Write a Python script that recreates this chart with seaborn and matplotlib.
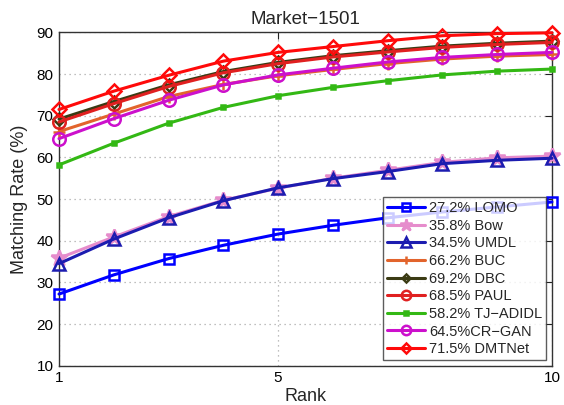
import numpy as np
import pandas as pd
import matplotlib
matplotlib.use("Agg")
import matplotlib.pyplot as plt
import seaborn as sns

ranks = [1, 2, 3, 4, 5, 6, 7, 8, 9, 10]

lomo = [27.2, 31.8, 35.7, 38.9, 41.6, 43.7, 45.5, 46.9, 48.1, 49.3]
bow = [35.8, 40.9, 45.8, 49.7, 52.6, 55.0, 56.9, 58.8, 59.9, 60.3]
umdl = [34.5, 40.4, 45.5, 49.6, 52.7, 54.9, 56.6, 58.5, 59.3, 59.8]
buc = [66.2, 70.4, 74.6, 77.5, 79.6, 81.1, 82.5, 83.6, 84.3, 84.7]
dbc = [69.2, 73.4, 77.4, 80.6, 82.8, 84.4, 85.6, 86.7, 87.4, 87.9]
paul = [68.5, 72.9, 77.0, 80.3, 82.5, 84.1, 85.3, 86.4, 87.1, 87.6]
tj_adidl = [58.2, 63.4, 68.2, 72.0, 74.8, 76.8, 78.4, 79.8, 80.7, 81.2]
cr_gan = [64.5, 69.3, 73.7, 77.4, 79.8, 81.4, 82.9, 84.0, 84.7, 85.2]
dmtnet = [71.5, 75.9, 79.7, 83.1, 85.2, 86.6, 88.0, 89.2, 89.7, 89.9]

labels = ["27.2% LOMO", "35.8% Bow", "34.5% UMDL", "66.2% BUC", "69.2% DBC",
          "68.5% PAUL", "58.2% TJ\u2212ADIDL", "64.5%CR\u2212GAN", "71.5% DMTNet"]
series = [lomo, bow, umdl, buc, dbc, paul, tj_adidl, cr_gan, dmtnet]

colors = ["#0000ff", "#e68ccc", "#1c1cb0", "#e2642c", "#3b3b14",
          "#e02020", "#33b814", "#cc10cc", "#ff0a0a"]
markers = ["s", "*", "^", "+", "D", "o", "s", "o", "D"]
msizes = [7, 12, 9, 8, 6, 9, 3, 9, 7]
filled = [False, True, False, True, False, False, True, False, False]

sns.set_style("white")
plt.rcParams["font.family"] = ["Liberation Sans", "DejaVu Sans"]

fig = plt.figure(figsize=(5.64, 4.05), dpi=100)
ax = fig.add_axes([0.1046, 0.097, 0.874, 0.823])

for vals, lab, c, m, ms, f in zip(series, labels, colors, markers, msizes, filled):
    df = pd.DataFrame({"Rank": ranks, "Rate": vals})
    sns.lineplot(data=df, x="Rank", y="Rate", ax=ax, color=c, label=lab,
                 linewidth=2.2, marker=m, markersize=ms,
                 markerfacecolor=(c if f else "none"), markeredgecolor=c,
                 markeredgewidth=1.8, clip_on=False, zorder=3)

ax.set_xlim(1, 10)
ax.set_ylim(10, 90)
ax.set_xticks([1, 5, 10])
ax.set_yticks(np.arange(10, 91, 10))
ax.tick_params(axis="both", direction="in", length=5, labelsize=11,
               top=True, right=True, colors="#222222", labelcolor="black", pad=4)
ax.grid(True, linestyle=(0, (1, 3)), color="#aaaaaa", linewidth=0.9)
for sp in ax.spines.values():
    sp.set_color("#333333")
    sp.set_linewidth(1.0)

ax.set_xlabel("Rank", fontsize=13, labelpad=2)
ax.set_ylabel("Matching Rate (%)", fontsize=13, labelpad=6)
ax.set_title("Market\u22121501", fontsize=13.5, pad=6)

leg = ax.legend(loc="lower right", fontsize=10.5, frameon=True, fancybox=False,
                handlelength=2.6, handletextpad=0.3, labelspacing=0.25,
                borderpad=0.25, borderaxespad=0.4, edgecolor="#333333",
                markerscale=0.75)
leg.get_frame().set_linewidth(1.0)
leg.set_zorder(5)

fig.savefig("out.png", dpi=100)
